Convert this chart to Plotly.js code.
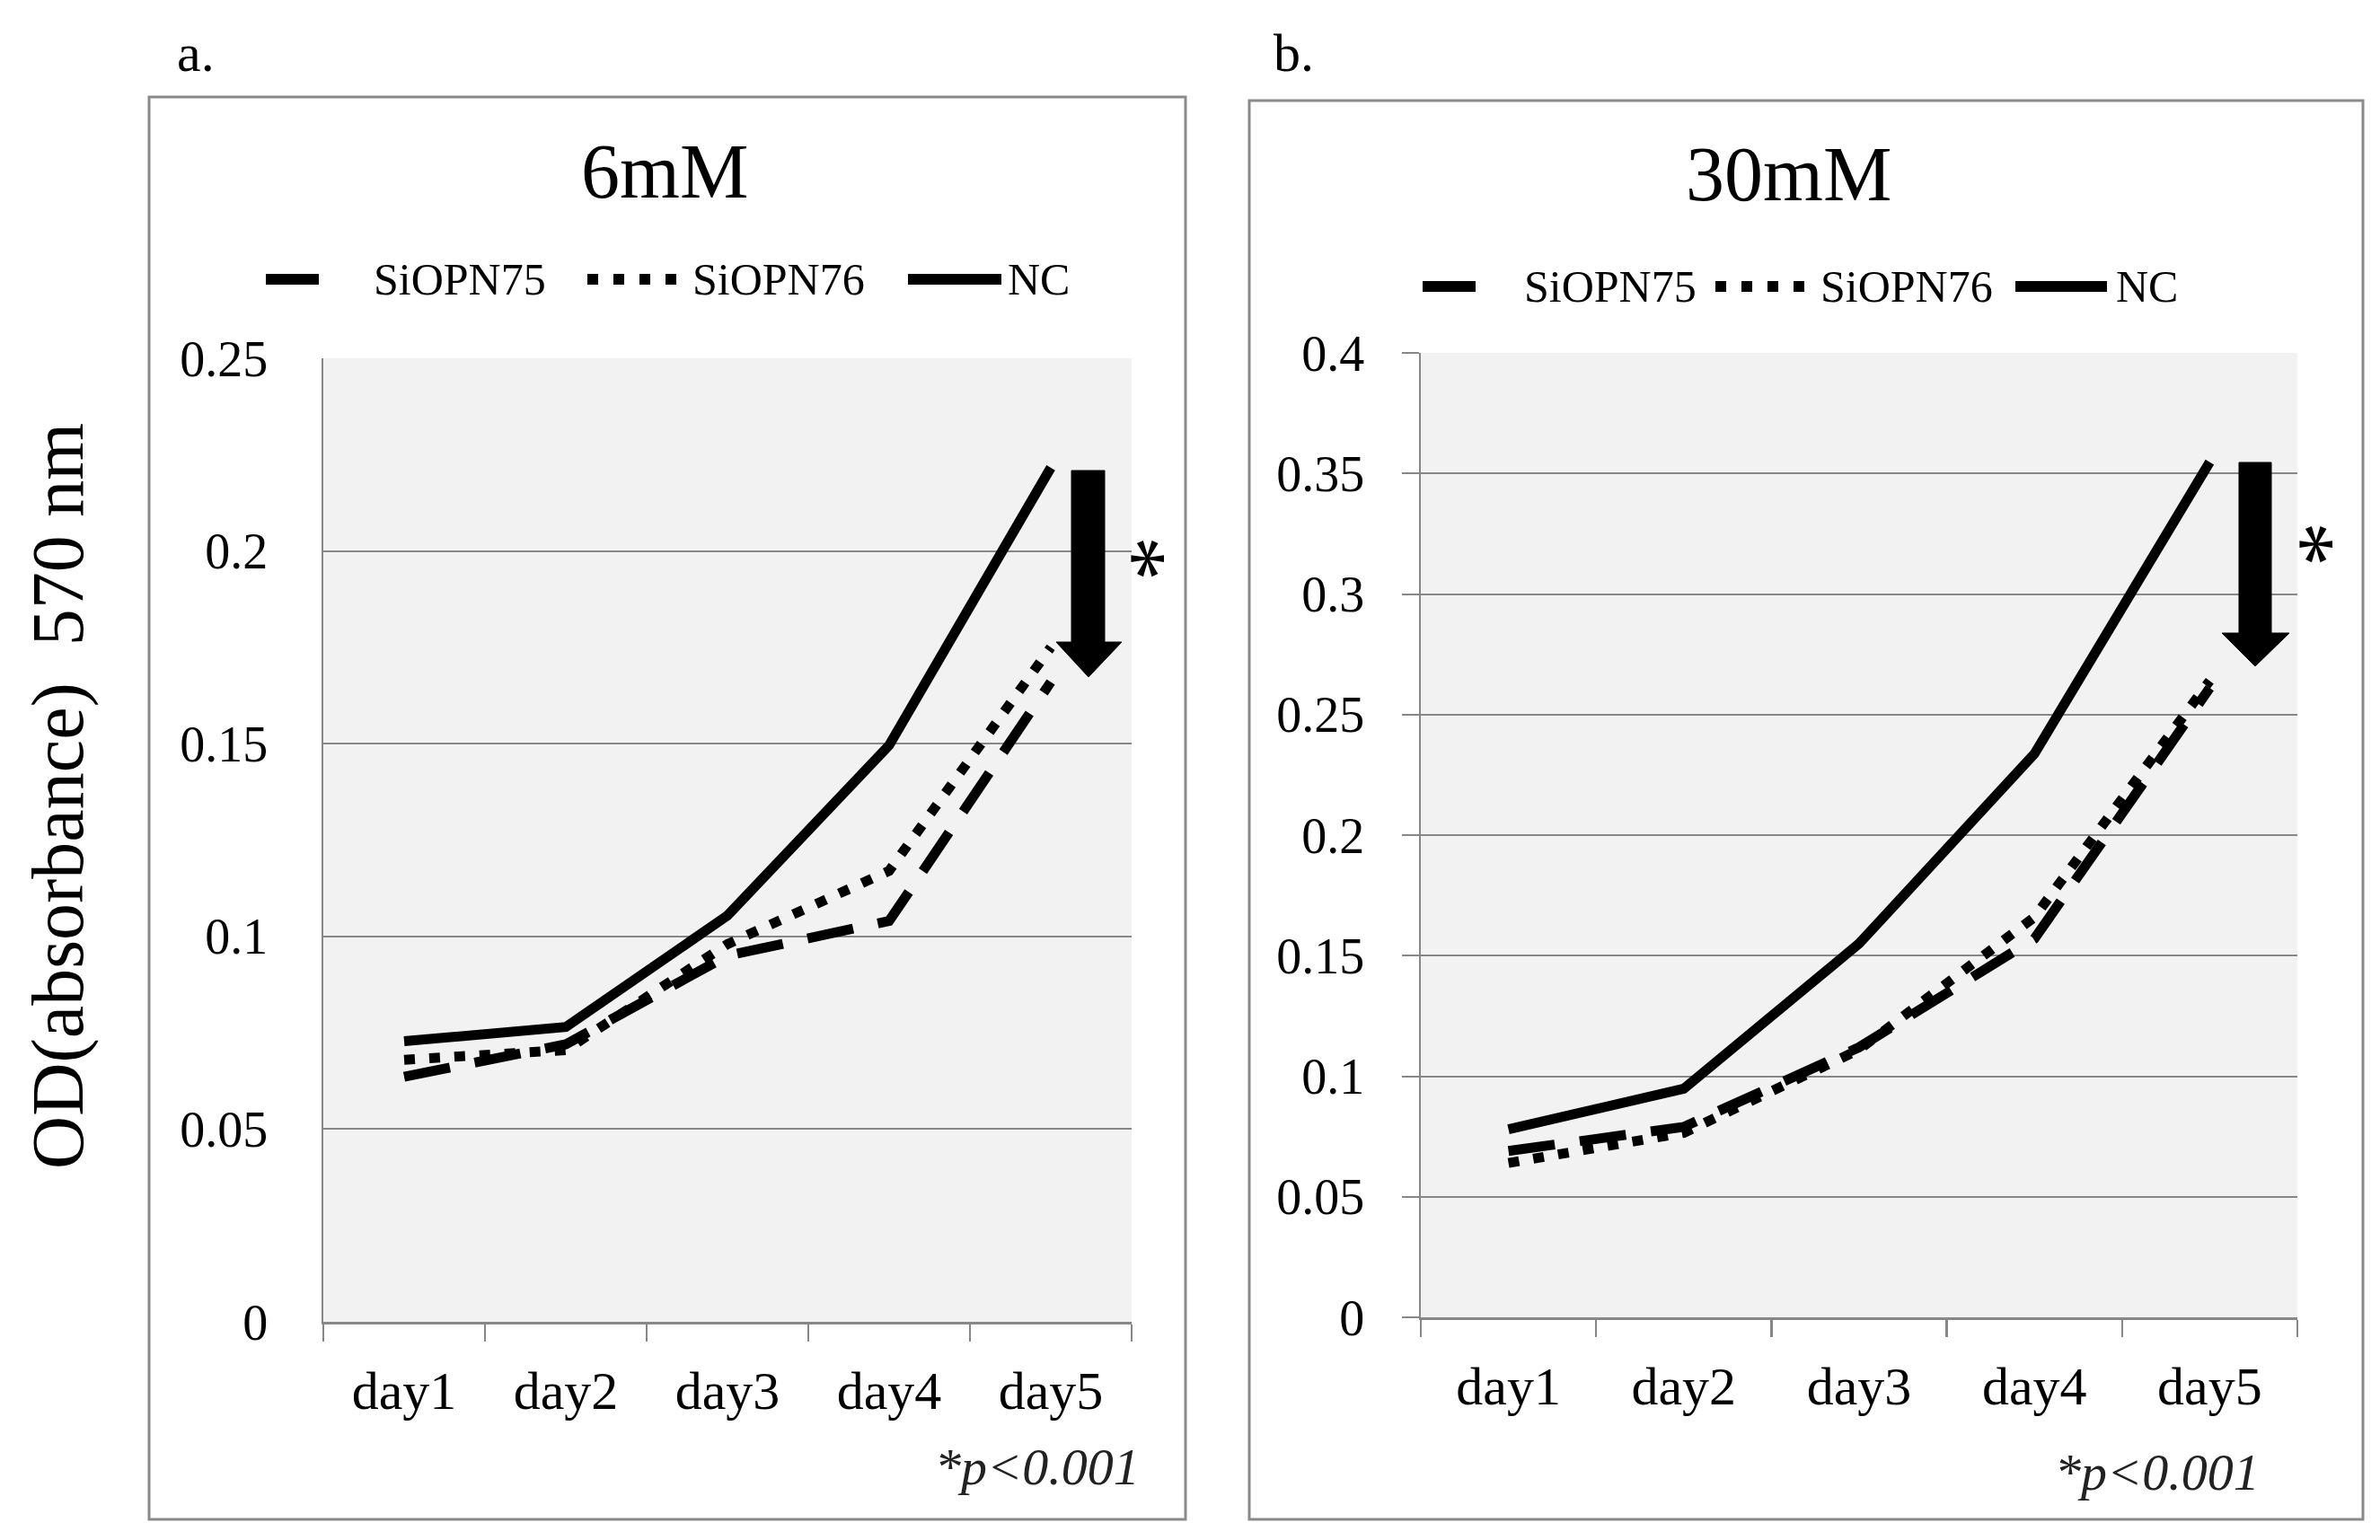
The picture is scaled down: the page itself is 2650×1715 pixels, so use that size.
<!DOCTYPE html>
<html>
<head>
<meta charset="utf-8">
<script src="https://cdn.plot.ly/plotly-3.0.1.min.js"></script>
<style>html,body{margin:0;padding:0;background:#fff;}#chart{width:2650px;height:1715px;}</style>
</head>
<body>
<div id="chart"></div>
<script>
// ---- data ----
const days = ["day1", "day2", "day3", "day4", "day5"];
const seriesNames = ["SiOPN75", "SiOPN76", "NC"];
// panel a: 6mM
const a_SiOPN75 = [0.0636, 0.0720, 0.0950, 0.1040, 0.1660];
const a_SiOPN76 = [0.0680, 0.0705, 0.0980, 0.1170, 0.1750];
const a_NC      = [0.0728, 0.0765, 0.1054, 0.1496, 0.2216];
// panel b: 30mM
const b_SiOPN75 = [0.0690, 0.0790, 0.1120, 0.1570, 0.2610];
const b_SiOPN76 = [0.0640, 0.0765, 0.1110, 0.1660, 0.2640];
const b_NC      = [0.0780, 0.0948, 0.1550, 0.2337, 0.3547];
const panelTitles = ["6mM", "30mM"];
const panelLabels = ["a.", "b."];
const yTitle = "OD(absorbance)&#160;&#160;570 nm";
const pText = "*p<0.001";

const W = 2650, H = 1715;
const px = x => x / W;
const py = y => 1 - y / H;

const serif = "Liberation Serif, Times New Roman, serif";
const styles = [
  {dash: "52px,28px"},
  {dash: "12px,16px"},
  {dash: "solid"}
];

const traces = [];
[[a_SiOPN75, a_SiOPN76, a_NC], [b_SiOPN75, b_SiOPN76, b_NC]].forEach((set, p) => {
  set.forEach((vals, i) => {
    traces.push({
      type: "scatter", mode: "lines",
      x: days, y: vals, name: seriesNames[i],
      xaxis: p === 0 ? "x" : "x2", yaxis: p === 0 ? "y" : "y2",
      line: {color: "#000", width: 11, dash: styles[i].dash},
      showlegend: false, hoverinfo: "skip"
    });
  });
});

const axisCommon = {
  showline: true, linecolor: "#878787", linewidth: 2.5,
  gridcolor: "#878787", gridwidth: 2,
  zeroline: false,
  tickfont: {family: serif, size: 56, color: "#000"}
};

const xCommon = Object.assign({}, axisCommon, {
  type: "category", range: [-0.5, 4.5], showgrid: false,
  ticks: "outside", tickson: "boundaries", ticklen: 19, tickwidth: 2.5, tickcolor: "#878787",
  ticklabelstandoff: 22, tickfont: {family: serif, size: 60, color: "#000"}
});

const shapes = [];
const annotations = [];
const ann = (x, y, text, size, extra) => annotations.push(Object.assign({
  xref: "paper", yref: "paper", x: px(x), y: py(y), showarrow: false, text: text,
  xanchor: "center", yanchor: "middle",
  font: {family: serif, size: size, color: "#000"}}, extra || {}));

// outer panel boxes
[[166, 108, 1320, 1692], [1391, 112, 2631, 1692]].forEach(b => {
  shapes.push({type: "rect", xref: "paper", yref: "paper",
    x0: px(b[0]), x1: px(b[2]), y0: py(b[3]), y1: py(b[1]),
    line: {color: "#8a8a8a", width: 3}, fillcolor: "rgba(0,0,0,0)", layer: "below"});
});

// custom legends
const legends = [
  {y: 311, samples: [[296, 355], [654, 755], [1011, 1115]], texts: [414, 769, 1120]},
  {y: 319, samples: [[1584, 1643], [1910, 2011], [2244, 2346]], texts: [1695, 2025, 2354]}
];
legends.forEach(L => {
  L.samples.forEach((s, i) => {
    shapes.push({type: "line", xref: "paper", yref: "paper",
      x0: px(s[0]), x1: px(s[1]), y0: py(L.y), y1: py(L.y),
      line: {color: "#000", width: 12, dash: i === 2 ? "solid" : (i === 0 ? "60px,20px" : "12px,17px")}});
    ann(L.texts[i], L.y, seriesNames[i], 50, {xanchor: "left"});
  });
});

// arrows
const arrows = [
  {sx0: 1193, sx1: 1230, top: 524, hy: 715, hx0: 1176, hx1: 1249, tipx: 1212, tipy: 754},
  {sx0: 2493, sx1: 2529, top: 515, hy: 705, hx0: 2474, hx1: 2549, tipx: 2511, tipy: 742}
];
arrows.forEach(a => {
  const P = (x, y) => px(x).toFixed(5) + "," + py(y).toFixed(5);
  shapes.push({type: "path", xref: "paper", yref: "paper",
    path: "M" + P(a.sx0, a.top) + " L" + P(a.sx1, a.top) + " L" + P(a.sx1, a.hy) + " L" + P(a.hx1, a.hy) +
          " L" + P(a.tipx, a.tipy) + " L" + P(a.hx0, a.hy) + " L" + P(a.sx0, a.hy) + " Z",
    fillcolor: "#000", line: {color: "#000", width: 1}});
});

// texts
[[740, 191], [1991, 194]].forEach((t, i) => ann(t[0], t[1], panelTitles[i], 86));
[[195, 59], [1416, 59]].forEach((t, i) => ann(t[0], t[1], panelLabels[i], 60, {xanchor: "left"}));
[[1271, 1633], [2518, 1639]].forEach(t => ann(t[0], t[1], "<i>" + pText.replace("<", "&lt;") + "</i>", 58,
  {xanchor: "right", font: {family: serif, size: 58, color: "#222"}}));
[[1264, 622], [2566, 606]].forEach(t => ann(t[0], t[1], "*", 100, {textangle: 90}));
ann(64, 887, yTitle, 82, {textangle: -90});

const layout = {
  width: W, height: H,
  margin: {l: 0, r: 0, t: 0, b: 0},
  paper_bgcolor: "#fff", plot_bgcolor: "#f2f2f2",
  showlegend: false,
  xaxis: Object.assign({}, xCommon, {domain: [px(360), px(1260)], anchor: "y"}),
  yaxis: Object.assign({}, axisCommon, {domain: [py(1472), py(399)], anchor: "x",
    range: [0, 0.25], dtick: 0.05, tick0: 0, ticks: "", ticklabelstandoff: 48}),
  xaxis2: Object.assign({}, xCommon, {domain: [px(1582), px(2558)], anchor: "y2"}),
  yaxis2: Object.assign({}, axisCommon, {domain: [py(1467), py(393)], anchor: "x2",
    range: [0, 0.4], dtick: 0.05, tick0: 0, ticks: "outside", ticklen: 19, tickwidth: 2, tickcolor: "#878787",
    ticklabelstandoff: 30}),
  shapes: shapes,
  annotations: annotations
};

Plotly.newPlot("chart", traces, layout, {displayModeBar: false, staticPlot: true});
</script>
</body>
</html>
